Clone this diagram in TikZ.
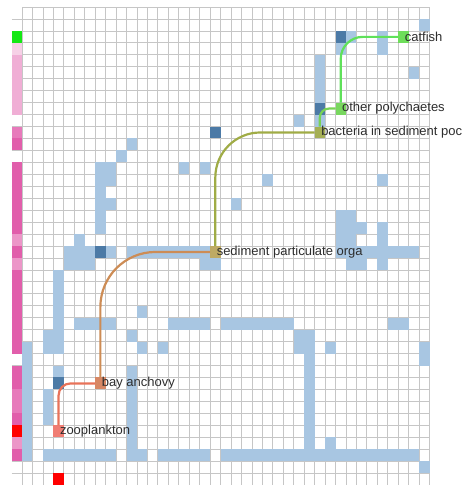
\documentclass[tikz,border=0pt]{standalone}
\usepackage{fontspec}
\setmainfont{Liberation Sans}
\usepackage{tikz}
\usetikzlibrary{positioning}
\usepackage{xcolor}
\definecolor{mygrid}{RGB}{198,198,198}
\definecolor{mylightblue}{RGB}{168,198,226}
\definecolor{mydarkblue}{RGB}{76,122,166}
\definecolor{mygreen}{RGB}{20,232,20}
\definecolor{myred}{RGB}{255,0,0}
\definecolor{mypinkpale}{RGB}{246,208,230}
\definecolor{mypinklight}{RGB}{240,174,213}
\definecolor{mypinksoft}{RGB}{236,150,200}
\definecolor{mypink}{RGB}{231,122,187}
\definecolor{mypinkdeep}{RGB}{225,94,171}
\definecolor{mytext}{RGB}{45,45,45}
\definecolor{flowzoo}{RGB}{232,115,90}
\definecolor{flowbay}{RGB}{205,140,85}
\definecolor{flowsed}{RGB}{160,172,70}
\definecolor{flowbac}{RGB}{120,210,85}
\definecolor{flowpoly}{RGB}{95,225,90}

\begin{document}
\begin{tikzpicture}[
    x=1pt, y=-1pt,
    font=\fontsize{13}{15}\selectfont,
    sq/.style={minimum width=10.45pt, minimum height=11.95pt, inner sep=0pt, outer sep=0pt},
    lbl/.style={text=mytext, inner sep=0pt},
    flow/.style={line width=2.2pt},
]
\useasboundingbox (0,0) rectangle (465,485);

\begin{scope}[shift={(22,7)}, x=10.45pt, y=-11.95pt]

% ── grade da matriz ──────────────────────────────
\foreach \i in {0,...,39} \draw[mygrid, line width=0.75pt] (\i,0) -- (\i,40);
\draw[mygrid, line width=0.75pt] (0,0) -- (39,0);
\foreach \j in {1,...,39} \draw[mygrid, line width=0.75pt] (-1,\j) -- (39,\j);

% células claras (linha / colunas)
\foreach \r/\cols in {
    1/{38}, 2/{31,34}, 3/{30,34}, 4/{28}, 5/{28,37}, 6/{28}, 7/{28},
    9/{26,28}, 11/{10}, 12/{9}, 13/{7,8,15,17}, 14/{7,8,23,34}, 15/{7},
    16/{7,8,20}, 17/{7,30,31}, 18/{7,30,31,32,34}, 19/{5,30,31,34},
    20/{4,5,6,8,10,11,12,13,14,15,16,17,30,31,32,33,34,35,36,37},
    21/{4,5,6,17,18,31,32,34},
    22/{3}, 23/{3}, 24/{3}, 25/{3,11},
    26/{3,5,6,7,8,14,15,16,17,19,20,21,22,23,24,25,35,36},
    27/{2,3,10,26,27}, 28/{0,2,3,11,13,26,27,29,38}, 29/{0,27,38},
    30/{0,3,10,27}, 31/{0,10,27}, 32/{0,2,10,27}, 33/{0,2,10,27},
    34/{0,2,10,27}, 35/{0,10,27}, 36/{0,10,27,29},
    37/{0,2,3,4,5,6,7,8,10,11,13,14,15,16,17,19,20,21,22,23,24,25,26,27,28,29,30,31,32,33,34,35,36,37},
    38/{38}}
  \foreach \c in \cols
    \fill[mylightblue] (\c,\r) rectangle ++(1,1);

% células escuras (cantos do caminho)
\foreach \c/\r in {30/2, 28/8, 18/10, 7/20, 3/31}
  \fill[mydarkblue] (\c,\r) rectangle ++(1,1);

% ── faixa lateral e faixa inferior ───────────────
\foreach \r/\cor in {2/mygreen, 3/mypinkpale, 4/mypinklight, 5/mypinklight, 6/mypinklight,
    7/mypinklight, 8/mypinklight, 10/mypink, 11/mypinkdeep, 13/mypinkdeep, 14/mypinkdeep,
    15/mypinkdeep, 16/mypinkdeep, 17/mypinkdeep, 18/mypinkdeep, 19/mypinksoft, 20/mypinkdeep,
    21/mypinksoft, 22/mypinkdeep, 23/mypinkdeep, 24/mypinkdeep, 25/mypinkdeep, 26/mypinkdeep,
    27/mypinkdeep, 28/mypinkdeep, 30/mypinkdeep, 31/mypinkdeep, 32/mypink, 33/mypink,
    34/mypinkdeep, 35/myred, 36/mypinksoft, 37/mypinkdeep}
  \fill[\cor] (-1,\r) rectangle ++(1,1);
\fill[myred] (3,39) rectangle ++(1,1);

% ── nós do caminho ───────────────────────────────
\node[sq, fill={rgb,255:red,240;green,125;blue,115}] (zoo)  at (3.5,35.5)  {};
\node[sq, fill={rgb,255:red,215;green,135;blue,100}] (bay)  at (7.5,31.5)  {};
\node[sq, fill={rgb,255:red,190;green,170;blue,100}] (sed)  at (18.5,20.5) {};
\node[sq, fill={rgb,255:red,165;green,175;blue,85}]  (bac)  at (28.5,10.5) {};
\node[sq, fill={rgb,255:red,120;green,215;blue,95}]  (poly) at (30.5,8.5)  {};
\node[sq, fill={rgb,255:red,110;green,222;blue,90}]  (cat)  at (36.5,2.5)  {};

% Ligações
\draw[flow, color=flowzoo,  rounded corners=12pt] (zoo)  |- (bay);
\draw[flow, color=flowbay,  rounded corners=55pt] (bay)  |- (sed);
\draw[flow, color=flowsed,  rounded corners=45pt] (sed)  |- (bac);
\draw[flow, color=flowbac,  rounded corners=9pt]  (bac)  |- (poly);
\draw[flow, color=flowpoly, rounded corners=22pt] (poly) |- (cat);

% Rótulos
\node[lbl, right=-4pt of zoo]  (zoolbl)  {zooplankton};
\node[lbl, right=-4pt of bay]  (baylbl)  {bay anchovy};
\node[lbl, right=-4pt of sed]  (sedlbl)  {sediment particulate orga};
\node[lbl, right=-4pt of bac]  (baclbl)  {bacteria in sediment poc};
\node[lbl, right=-4pt of poly] (polylbl) {other polychaetes};
\node[lbl, right=-4pt of cat]  (catlbl)  {catfish};

\end{scope}
\end{tikzpicture}
\end{document}
